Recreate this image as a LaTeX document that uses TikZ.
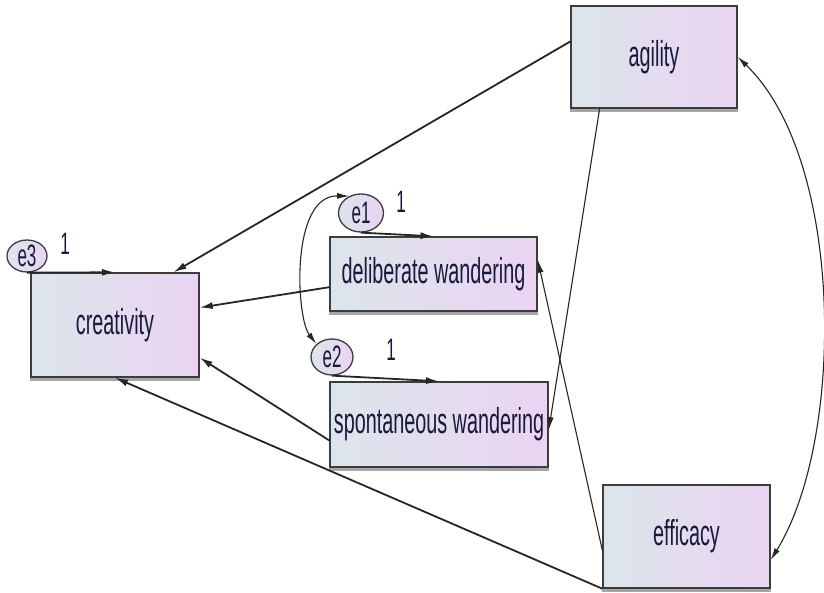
\documentclass[tikz,border=0pt]{standalone}
\usepackage{fontspec}
\setmainfont[FakeStretch=0.55]{Liberation Sans}
\usetikzlibrary{arrows.meta,calc,shapes.geometric}
\definecolor{boxL}{RGB}{220,229,235}
\definecolor{boxR}{RGB}{234,212,242}
\definecolor{edge}{RGB}{60,60,60}
\definecolor{txt}{RGB}{25,25,60}
\begin{document}
\begin{tikzpicture}[x=1pt,y=-1pt,
 var/.style={rectangle, draw=edge, line width=1.4pt, left color=boxL, right color=boxR, inner sep=0pt, font=\fontsize{36}{38}\selectfont, text=txt},
 err/.style={ellipse, draw=edge, line width=1.3pt, left color=boxL, right color=boxR, inner sep=0pt, font=\fontsize{31}{33}\selectfont, text=txt},
 shade/.style={draw=gray!70, line width=2.5pt},
 arr/.style={-{Latex[length=13pt,width=7pt]}, line width=1.8pt, draw=black!85},
 thinarr/.style={-{Latex[length=13pt,width=6pt]}, line width=1.1pt, draw=black!85},
 cov/.style={{Latex[length=12pt,width=6pt]}-{Latex[length=12pt,width=6pt]}, line width=1.1pt, draw=black!85},
 one/.style={font=\fontsize{31}{33}\selectfont, text=txt}]
\useasboundingbox[fill=white] (0,0) rectangle (824,593);

\node[var, minimum width=166pt, minimum height=102pt] (agility) at (654,57) {agility};
\node[var, minimum width=167pt, minimum height=103pt] (efficacy) at (686.5,536.5) {efficacy};
\node[var, minimum width=168pt, minimum height=104pt] (creat) at (115,325) {creativity};
\node[var, minimum width=207pt, minimum height=74pt] (delib) at (433.5,274) {deliberate wandering};
\node[var, minimum width=218pt, minimum height=85pt] (spont) at (439,424.5) {spontaneous wandering};

\foreach \n in {agility,efficacy,creat,delib,spont}{
  \draw[shade] ([yshift=-2pt]\n.south west) -- ([yshift=-2pt]\n.south east);
}

\node[err, minimum width=40pt, minimum height=32pt] (e3) at (27,256) {e3};
\node[err, minimum width=45pt, minimum height=38pt] (e1) at (361,213) {e1};
\node[err, minimum width=42pt, minimum height=36pt] (e2) at (332,357) {e2};

\node[one] (l3) at (65,244) {1};
\node[one] (l1) at (401,202) {1};
\node[one] (l2) at (391,350) {1};

\draw[arr] (e3.south) -- (creat.north);
\draw[arr] (e1.south) -- (delib.north);
\draw[arr] (e2.south) -- (spont.north);

\draw[arr] ($(agility.north west)!0.35!(agility.south west)$) -- ($(creat.north)!0.69!(creat.north east)$);
\draw[arr] ($(delib.west)!0.35!(delib.south west)$) -- ($(creat.east)!0.33!(creat.north east)$);
\draw[arr] ($(spont.west)!0.37!(spont.south west)$) -- ($(creat.east)!0.62!(creat.south east)$);
\draw[arr] (efficacy.south west) -- (creat.south);
\draw[thinarr] ($(agility.south west)!0.35!(agility.south)$) -- ($(spont.east)!0.13!(spont.south east)$);
\draw[thinarr] ($(efficacy.west)!0.26!(efficacy.south west)$) -- ($(delib.east)!0.38!(delib.north east)$);

\draw[cov] (agility.east) .. controls (845,160) and (845,440) .. ($(efficacy.east)!0.45!(efficacy.south east)$);
\draw[cov] (e1.125) .. controls (290,195) and (296,318) .. (e2.140);
\end{tikzpicture}
\end{document}
